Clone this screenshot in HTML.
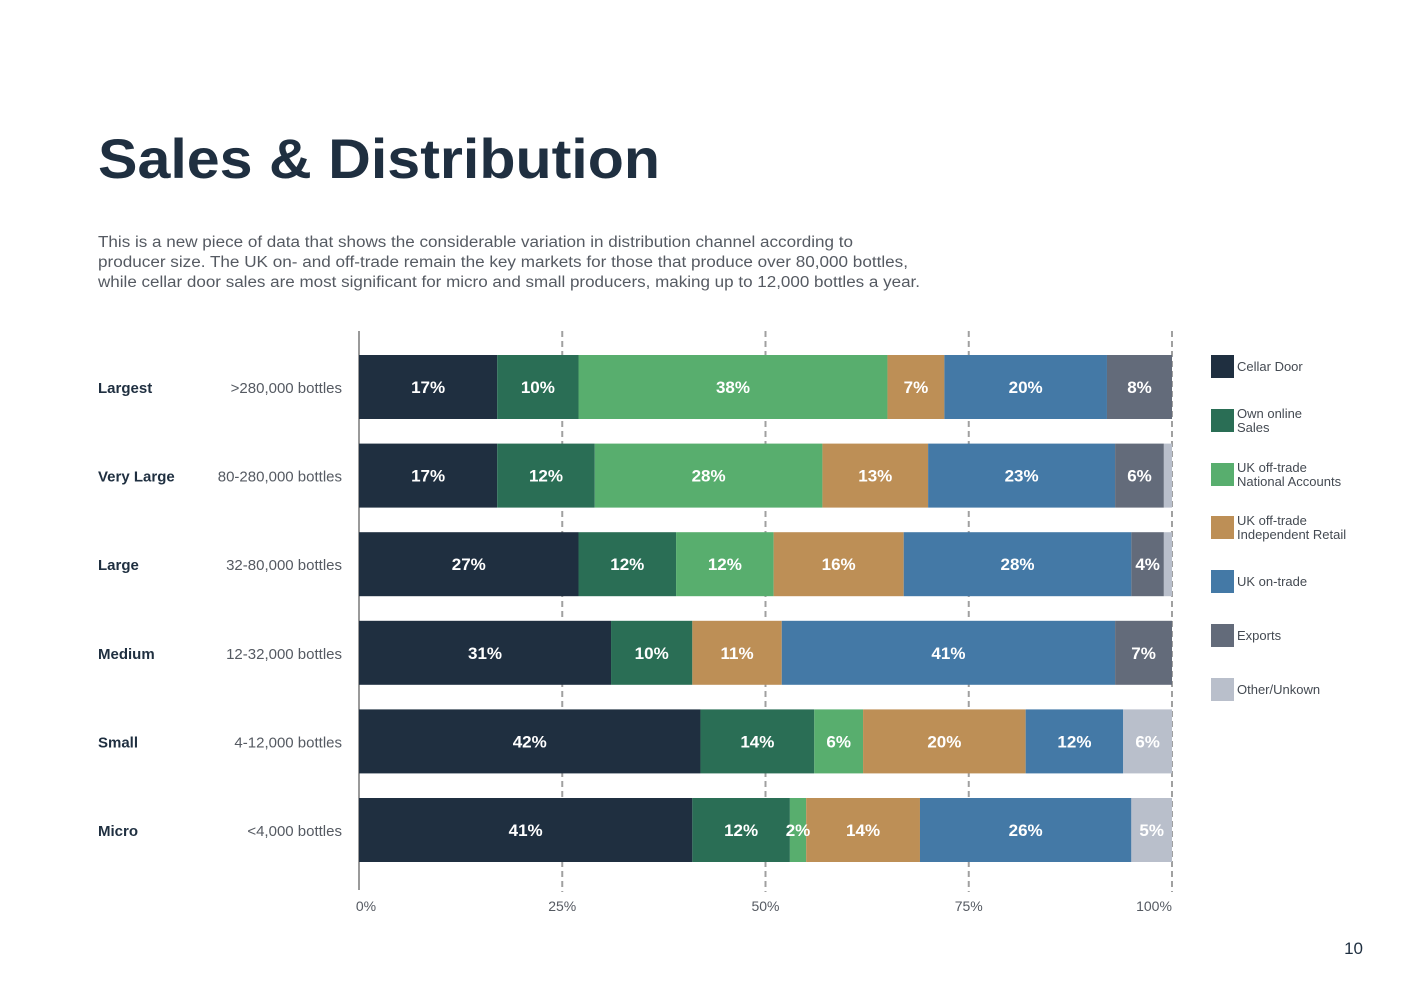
<!DOCTYPE html>
<html><head><meta charset="utf-8"><style>
html,body{margin:0;padding:0;background:#fff;}
svg{display:block;font-family:"Liberation Sans",sans-serif;}
</style></head><body>
<svg id="chart" width="1403" height="992" viewBox="0 0 1403 992" xmlns="http://www.w3.org/2000/svg">
<text x="98" y="178" font-size="56" font-weight="bold" fill="#1f2f40" textLength="562" lengthAdjust="spacingAndGlyphs">Sales &amp; Distribution</text>
<g font-size="15.5" fill="#555a62">
<text x="98" y="247" textLength="755" lengthAdjust="spacingAndGlyphs">This is a new piece of data that shows the considerable variation in distribution channel according to</text>
<text x="98" y="267" textLength="810" lengthAdjust="spacingAndGlyphs">producer size. The UK on- and off-trade remain the key markets for those that produce over 80,000 bottles,</text>
<text x="98" y="287" textLength="822" lengthAdjust="spacingAndGlyphs">while cellar door sales are most significant for micro and small producers, making up to 12,000 bottles a year.</text>
</g>
<g id="grid"></g>
<g id="bars"></g>
<g id="labels"></g>
<g id="legend"></g>
<text x="1363" y="954" font-size="17" fill="#1f2f40" text-anchor="end">10</text>
</svg>
<script>
const categories = ["Largest","Very Large","Large","Medium","Small","Micro"];
const sizes = [">280,000 bottles","80-280,000 bottles","32-80,000 bottles","12-32,000 bottles","4-12,000 bottles","<4,000 bottles"];
const series = ["Cellar Door","Own online Sales","UK off-trade National Accounts","UK off-trade Independent Retail","UK on-trade","Exports","Other/Unkown"];
const cellarDoor = [17,17,27,31,42,41];
const ownOnline = [10,12,12,10,14,12];
const offTradeNational = [38,28,12,0,6,2];
const offTradeIndependent = [7,13,16,11,20,14];
const onTrade = [20,23,28,41,12,26];
const exportsVals = [8,6,4,7,0,0];
const otherVals = [0,1,1,0,6,5];
const ticks = [0,25,50,75,100];
const tickLabels = ["0%","25%","50%","75%","100%"];

const values = [cellarDoor,ownOnline,offTradeNational,offTradeIndependent,onTrade,exportsVals,otherVals];
const colors = ["#1f2f40","#2a6e55","#58ae6e","#bd8f56","#4479a6","#636b7a","#b9bfcb"];
const NS="http://www.w3.org/2000/svg";
const x0=359,x1=1172;
const xs=v=>x0+(x1-x0)*v/100;
const yTop=i=>355+i*88.6;
const barH=64;
function mk(tag,attrs,parent){const e=document.createElementNS(NS,tag);for(const k in attrs)e.setAttribute(k,attrs[k]);parent.appendChild(e);return e;}
const grid=document.getElementById('grid'),bars=document.getElementById('bars'),labels=document.getElementById('labels'),legend=document.getElementById('legend');
ticks.forEach((t,i)=>{
  let l;
  if(t===0){l=mk('line',{x1:xs(t),x2:xs(t),y1:331,y2:890,stroke:'#9a9a9a','stroke-width':2},grid);}
  else{l=mk('line',{x1:xs(t),x2:xs(t),y1:331,y2:892,stroke:'#a0a0a0','stroke-width':2,'stroke-dasharray':'6,4'},grid);}
  
  
  const tx=mk('text',{x:xs(t)+(t===0?7:t===100?-18:0),y:911,'font-size':14,fill:'#555a62','text-anchor':'middle'},labels);
  tx.textContent=tickLabels[i];
  
  
});
categories.forEach((c,i)=>{
  const y=yTop(i);
  let acc=0;
  series.forEach((s,j)=>{
    const v=values[j][i];
    if(v>0){
      const r=mk('rect',{x:xs(acc),y:y,width:xs(acc+v)-xs(acc),height:barH,fill:colors[j]},bars);
      
      
      if(v>=2){
        const t=mk('text',{x:(xs(acc)+xs(acc+v))/2,y:y+barH/2+6,'font-size':17,'font-weight':'bold',fill:'#fff','text-anchor':'middle'},labels);
        t.textContent=v+'%';
        
        
      }
    }
    acc+=v;
  });
  const cl=mk('text',{x:98,y:y+barH/2+6,'font-size':15,'font-weight':'bold',fill:'#1f2f40'},labels);
  cl.textContent=c;
  
  
  const sl=mk('text',{x:342,y:y+barH/2+6,'font-size':15,fill:'#555a62','text-anchor':'end'},labels);
  sl.textContent=sizes[i];
  
  
});
const legY=[355,409,463,516,570,624,678];
const legLines=[["Cellar Door"],["Own online","Sales"],["UK off-trade","National Accounts"],["UK off-trade","Independent Retail"],["UK on-trade"],["Exports"],["Other/Unkown"]];
series.forEach((s,j)=>{
  const g=mk('g',{},legend);
  
  
  mk('rect',{x:1211,y:legY[j],width:23,height:23,fill:colors[j]},g);
  const ln=legLines[j];
  ln.forEach((t,k)=>{
    const yy=ln.length===1?legY[j]+16:legY[j]+9+k*14;
    const tx=mk('text',{x:1237,y:yy,'font-size':13,fill:'#444a52'},g);
    tx.textContent=t;
  });
});
</script>
</body></html>
